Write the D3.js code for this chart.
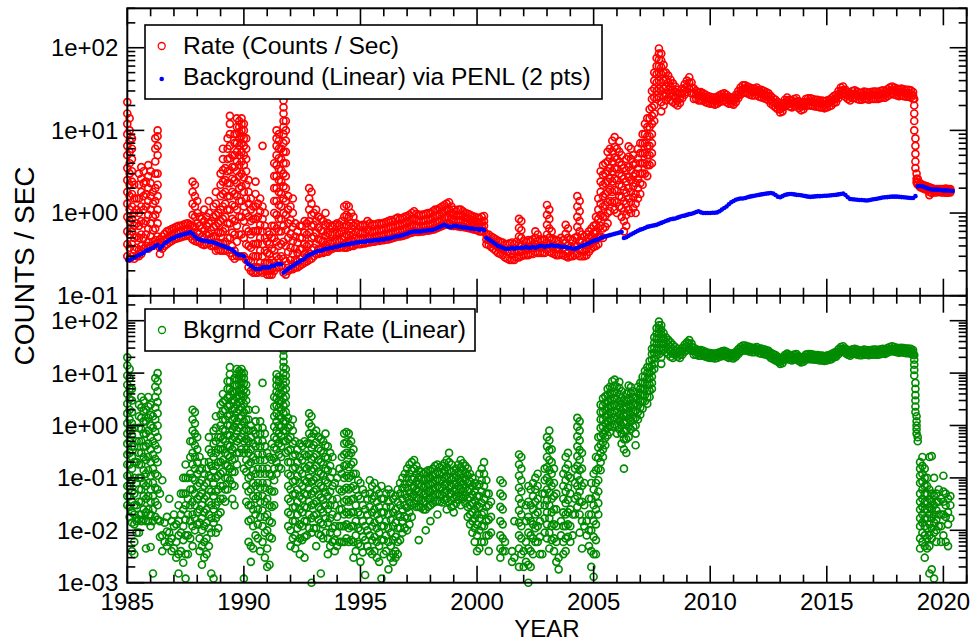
<!DOCTYPE html>
<html>
<head>
<meta charset="utf-8">
<script src="https://cdn.jsdelivr.net/npm/d3@7"></script>
<style>
  body { margin: 0; background: #fff; }
  svg { display: block; }
  text { font-family: "Liberation Sans", Arial, Helvetica, sans-serif; fill: #000; }
</style>
</head>
<body>
<svg id="chart" width="975" height="641"></svg>
<script>
// ---- Tick labels -----------------------------------------------------------
const yearLabels = [1985, 1990, 1995, 2000, 2005, 2010, 2015, 2020];
const topDecades = [100, 10, 1, 0.1];
const bottomDecades = [100, 10, 1, 0.1, 0.01, 0.001];

// ---- Background (linear fit via PENL), one row per year, tenths of a year ---
const backgroundRows = [
  [1985, .27,.27,.28,.29,.30,.31,.32,.33,.35,.36],
  [1986, .37,.38,.40,.41,.37,.40,.43,.45,.47,.49],
  [1987, .50,.52,.53,.54,.55,.56,.57,.59,.56,.52],
  [1988, .49,.48,.47,.46,.46,.45,.45,.44,.43,.42],
  [1989, .41,.40,.39,.38,.37,.36,.34,.32,.31,.31],
  [1990, .30,.26,.24,.23,.22,.21,.21,.21,.22,.22],
  [1991, .22,.22,.23,.23,.24,.24,.24,.19,.20,.21],
  [1992, .22,.23,.24,.25,.26,.27,.28,.30,.31,.32],
  [1993, .33,.34,.35,.35,.36,.37,.37,.38,.38,.39],
  [1994, .39,.40,.41,.41,.42,.42,.43,.43,.44,.44],
  [1995, .45,.45,.45,.46,.46,.46,.47,.47,.47,.48],
  [1996, .48,.49,.49,.50,.51,.52,.52,.53,.54,.55],
  [1997, .56,.58,.59,.60,.60,.60,.60,.61,.61,.62],
  [1998, .62,.63,.64,.66,.68,.70,.72,.70,.68,.68],
  [1999, .70,.70,.68,.68,.67,.67,.66,.65,.65,.64],
  [2000, .64,.63,.64,.62,.50,.48,.46,.44,.42,.40],
  [2001, .39,.38,.37,.37,.37,.38,.37,.38,.38,.38],
  [2002, .38,.39,.38,.38,.39,.38,.39,.40,.40,.39],
  [2003, .40,.40,.41,.40,.40,.40,.39,.39,.39,.38],
  [2004, .38,.37,.37,.38,.39,.40,.41,.42,.43,.45],
  [2005, .46,.47,.48,.50,.51,.52,.53,.54,.55,.56],
  [2006, .57,.58,.59,.50,.51,.53,.55,.57,.59,.61],
  [2007, .63,.64,.66,.68,.69,.70,.71,.72,.74,.76],
  [2008, .78,.80,.82,.84,.85,.86,.88,.90,.92,.93],
  [2009, .95,.97,.98,1.00,1.03,1.05,1.02,1.00,1.00,1.00],
  [2010, 1.00,1.01,1.01,1.02,1.05,1.10,1.15,1.20,1.28,1.35],
  [2011, 1.40,1.45,1.48,1.50,1.50,1.52,1.55,1.58,1.60,1.62],
  [2012, 1.64,1.66,1.68,1.70,1.72,1.73,1.75,1.72,1.65,1.58],
  [2013, 1.55,1.60,1.65,1.68,1.70,1.70,1.68,1.66,1.65,1.64],
  [2014, 1.62,1.60,1.58,1.57,1.58,1.59,1.60,1.60,1.61,1.62],
  [2015, 1.62,1.63,1.64,1.65,1.66,1.68,1.70,1.72,1.65,1.55],
  [2016, 1.48,1.47,1.46,1.45,1.44,1.44,1.43,1.42,1.43,1.45],
  [2017, 1.47,1.48,1.50,1.52,1.54,1.55,1.56,1.57,1.58,1.58],
  [2018, 1.58,1.57,1.56,1.55,1.54,1.53,1.52,1.52,1.60,2.10],
  [2019, 2.12,2.10,2.05,2.00,1.95,1.93,1.92,1.92,1.91,1.90],
  [2020, 1.88,1.88,1.87,1.86,1.85]
];

// ---- Rate (counts/sec): [time, readings...] ---------------------------------
const rateRows = [
  [1985.0, 22,16,12,9,6.5,5,3.5,2.5,1.8,1.3,.9,.6,.42,.3],
  [1985.1, 14,10,7.5,5.5,4,3,2.2,1.6,1.1,.8,.55,.38,.28],
  [1985.2, 8,6,4.5,3.2,2.4,1.7,1.2,.85,.6,.42,.3],
  [1985.3, 2.2,1.5,1.0,.7,.5,.36,.28],
  [1985.4, 1.5,1.1,.75,.52,.38,.3],
  [1985.5, 3.0,2.2,1.5,1.0,.7,.5,.36,.3],
  [1985.6, 3.6,2.6,1.8,1.2,.8,.55,.4,.32],
  [1985.7, 3.2,2.3,1.6,1.1,.75,.5,.37],
  [1985.8, 2.4,1.7,1.2,.8,.55,.4],
  [1985.9, 3.8,2.8,2.0,1.4,.95,.65,.45,.37],
  [1986.0, 3.2,2.3,1.6,1.1,.75,.52,.4],
  [1986.1, 1.8,1.3,.9,.62,.45,.4],
  [1986.2, 8,6,4.2,3,2,1.4,.95,.65,.47,.42],
  [1986.3, 10,8.5,6.5,5,3,2.2,1.6,1.1,.75,.52,.43],
  [1986.4, .48,.38,.32],
  [1986.5, .52,.44,.37],
  [1986.6, .56,.47,.40],
  [1986.7, .6,.5,.42],
  [1986.8, .62,.52,.44],
  [1986.9, .64,.54,.46],
  [1987.0, .66,.56,.48],
  [1987.1, .68,.58,.49],
  [1987.2, .7,.6,.5],
  [1987.3, .7,.6,.51],
  [1987.4, .72,.62,.52],
  [1987.5, .74,.64,.53],
  [1987.6, .75,.65,.55],
  [1987.7, .72,.6,.52],
  [1987.8, 2.4,1.8,1.3,.95,.7,.55,.48],
  [1987.9, 2.2,1.6,1.2,.9,.68,.52,.46],
  [1988.0, 1.4,1.0,.75,.58,.45],
  [1988.1, .9,.7,.56,.44],
  [1988.2, .85,.65,.52,.42],
  [1988.3, 1.1,.8,.62,.5,.41],
  [1988.4, .9,.7,.55,.42],
  [1988.5, 1.4,1.0,.75,.56,.43],
  [1988.6, .8,.62,.5,.4],
  [1988.7, 1.2,.9,.68,.52,.4],
  [1988.8, 1.8,1.3,.95,.7,.52,.4,.35],
  [1988.9, 1.0,.75,.58,.44,.36],
  [1989.0, 3,2.2,1.6,1.1,.8,.58,.43,.35],
  [1989.1, 6,4.5,3.3,2.4,1.7,1.2,.85,.6,.43,.35],
  [1989.2, 3.5,2.5,1.8,1.3,.9,.65,.45,.35],
  [1989.3, 8,6,4.5,3.2,2.3,1.6,1.1,.75,.5,.36],
  [1989.4, 15,12,9,6.5,4.6,3.3,2.3,1.6,1.1,.75,.5,.33],
  [1989.5, 5,3.6,2.6,1.8,1.25,.85,.58,.4,.3],
  [1989.6, 9,7,5,3.6,2.5,1.7,1.2,.8,.55,.35,.28],
  [1989.7, 14,11,9,7,5.5,4.2,3.2,2.3,1.6,1.1,.7,.45,.3],
  [1989.8, 13,11,9.5,8,6.5,5,3.8,2.8,2,1.4,.9,.55,.3],
  [1989.9, 14,12,10,8.5,7,5.5,4.2,3,2.1,1.4,.9,.55,.3],
  [1990.0, 12,10,8,6.5,5,3.8,2.7,1.8,1.2,.8,.5,.3],
  [1990.1, 8,6,4.5,3.2,2.2,1.5,1,.65,.42,.27],
  [1990.2, 2.5,1.8,1.3,.9,.6,.4,.27,.22],
  [1990.3, 1.5,1.1,.8,.55,.38,.26,.2],
  [1990.4, 1.2,.85,.6,.42,.3,.22,.19],
  [1990.5, 2.4,1.7,1.2,.85,.6,.42,.3,.22,.19],
  [1990.6, 1.3,.9,.62,.43,.3,.22,.19],
  [1990.7, 1.5,1.05,.72,.5,.35,.25,.2],
  [1990.8, 6.5,1.2,.85,.6,.42,.3,.22,.19],
  [1990.9, 1.0,.7,.5,.35,.25,.2],
  [1991.0, .6,.45,.33,.25,.2,.18],
  [1991.1, .55,.42,.32,.25,.2,.18],
  [1991.2, .7,.5,.37,.27,.21,.18],
  [1991.3, 4,2.8,2,1.4,1,.7,.5,.35,.25,.2],
  [1991.4, 10,8,6.5,5,3.8,2.8,2,1.4,.95,.65,.45,.3,.22],
  [1991.5, 9,7.5,6,4.6,3.4,2.5,1.8,1.25,.85,.6,.4,.28,.22],
  [1991.6, 6,4.5,3.3,2.4,1.7,1.2,.85,.6,.42,.3,.23],
  [1991.7, 23,19,16,13,11,9,7,5.5,4,3,2.1,1.5,1,.7,.45,.28,.19],
  [1991.8, 13,10,7.5,5.5,4,2.8,2,1.4,.95,.62,.4,.26,.18],
  [1991.9, 1.6,1.1,.75,.5,.34,.24,.2],
  [1992.0, 1.2,.82,.56,.38,.27,.21],
  [1992.1, 1.5,1,.68,.46,.32,.24,.21],
  [1992.2, .75,.52,.37,.27,.22],
  [1992.3, .6,.44,.33,.26,.22],
  [1992.4, .7,.5,.36,.28,.23],
  [1992.5, .7,.5,.37,.29,.24],
  [1992.6, .8,.58,.42,.32,.25],
  [1992.7, .75,.55,.4,.3,.26],
  [1992.8, 2,1.5,1.1,.8,.58,.42,.32,.27],
  [1992.9, 1.8,1.3,.95,.7,.5,.36,.28],
  [1993.0, 1.0,.72,.52,.38,.3],
  [1993.1, 1.1,.8,.58,.42,.32],
  [1993.2, .9,.66,.48,.37,.32],
  [1993.3, .85,.62,.47,.37,.33],
  [1993.4, .8,.6,.46,.37,.33],
  [1993.5, 1.0,.72,.53,.41,.34],
  [1993.6, .75,.57,.45,.37,.34],
  [1993.7, .7,.55,.43,.36],
  [1993.8, .7,.55,.44,.37],
  [1993.9, .72,.56,.45,.38],
  [1994.0, .75,.58,.46,.38],
  [1994.1, .72,.56,.46,.38],
  [1994.2, .8,.6,.48,.39],
  [1994.3, 1.2,.9,.68,.52,.42,.38],
  [1994.4, 1.25,.95,.72,.55,.43,.38],
  [1994.5, 1.2,.9,.7,.54,.44,.39],
  [1994.6, 1.0,.76,.58,.46,.4],
  [1994.7, .9,.7,.55,.45,.4],
  [1994.8, .75,.6,.49,.42],
  [1994.9, .72,.58,.48,.42],
  [1995.0, .7,.57,.48,.42],
  [1995.1, .72,.58,.48,.43],
  [1995.2, .72,.58,.49,.43],
  [1995.3, .8,.63,.51,.44],
  [1995.4, .75,.6,.5,.44],
  [1995.5, .73,.59,.5,.45],
  [1995.6, .72,.6,.51,.45],
  [1995.7, .74,.61,.52,.46],
  [1995.8, .75,.62,.52,.46],
  [1995.9, .74,.62,.53,.47],
  [1996.0, .76,.63,.54,.47],
  [1996.1, .78,.65,.55,.48],
  [1996.2, .8,.66,.56,.48],
  [1996.3, .82,.68,.57,.49],
  [1996.4, .8,.67,.57,.5],
  [1996.5, .85,.7,.59,.51],
  [1996.6, .88,.72,.6,.52],
  [1996.7, .85,.71,.6,.52],
  [1996.8, .87,.73,.62,.53],
  [1996.9, .9,.75,.63,.54],
  [1997.0, .92,.77,.65,.55],
  [1997.1, .95,.8,.67,.57],
  [1997.2, 1.0,.84,.7,.58],
  [1997.3, 1.05,.86,.7,.59],
  [1997.4, .98,.82,.69,.59],
  [1997.5, .95,.8,.68,.59],
  [1997.6, .95,.8,.68,.6],
  [1997.7, .96,.81,.69,.6],
  [1997.8, .98,.82,.7,.61],
  [1997.9, 1.0,.84,.71,.61],
  [1998.0, 1.0,.85,.72,.62],
  [1998.1, 1.05,.88,.74,.63],
  [1998.2, 1.1,.92,.77,.64],
  [1998.3, 1.1,.93,.79,.66],
  [1998.4, 1.15,.96,.8,.68],
  [1998.5, 1.2,1.0,.83,.7],
  [1998.6, 1.25,1.05,.87,.72],
  [1998.7, 1.3,1.1,.9,.74],
  [1998.8, 1.35,1.1,.88,.72],
  [1998.9, 1.2,1.0,.85,.7],
  [1999.0, 1.1,.95,.82,.7],
  [1999.1, 1.05,.92,.8,.7],
  [1999.2, 1.1,.95,.82,.69],
  [1999.3, 1.1,.95,.82,.68],
  [1999.4, 1.05,.92,.79,.68],
  [1999.5, 1.0,.88,.77,.67],
  [1999.6, .98,.86,.76,.66],
  [1999.7, .95,.84,.74,.65],
  [1999.8, .92,.82,.72,.64],
  [1999.9, .9,.8,.71,.63],
  [2000.0, .88,.78,.7,.62],
  [2000.1, .86,.76,.68,.6],
  [2000.2, .9,.78,.68,.6],
  [2000.3, .92,.8,.7,.6],
  [2000.4, .55,.48,.42],
  [2000.5, .55,.47,.41],
  [2000.6, .52,.45,.39],
  [2000.7, .5,.43,.37],
  [2000.8, .48,.41,.35],
  [2000.9, .46,.39,.33],
  [2001.0, .45,.38,.32],
  [2001.1, .44,.37,.31],
  [2001.2, .42,.35,.29],
  [2001.3, .42,.34,.28],
  [2001.4, .43,.34,.27],
  [2001.5, .44,.35,.27],
  [2001.6, .42,.34,.27],
  [2001.7, .45,.36,.29],
  [2001.8, .85,.66,.52,.42,.34,.29],
  [2001.9, .8,.62,.5,.41,.34,.3],
  [2002.0, .46,.38,.31],
  [2002.1, .45,.37,.31],
  [2002.2, .47,.38,.31],
  [2002.3, .46,.38,.32],
  [2002.4, .48,.39,.32],
  [2002.5, .6,.5,.42,.34],
  [2002.6, .55,.46,.39,.33],
  [2002.7, .48,.4,.33],
  [2002.8, .47,.39,.33],
  [2002.9, .48,.4,.33],
  [2003.0, 1.25,.95,.72,.55,.44,.36],
  [2003.1, 1.1,.85,.65,.5,.41,.34],
  [2003.2, .6,.48,.4,.33],
  [2003.3, .48,.39,.32],
  [2003.4, .47,.38,.31],
  [2003.5, .46,.37,.31],
  [2003.6, .5,.4,.32],
  [2003.7, .47,.38,.31],
  [2003.8, .72,.56,.44,.35,.3],
  [2003.9, .65,.5,.4,.33,.29],
  [2004.0, .48,.38,.3],
  [2004.1, .47,.37,.3],
  [2004.2, .5,.39,.31],
  [2004.3, 1.6,1.2,.9,.68,.52,.4,.32],
  [2004.4, 1.4,1.05,.8,.6,.46,.36,.3],
  [2004.5, .55,.44,.35,.3],
  [2004.6, .52,.42,.34,.3],
  [2004.7, .55,.45,.37,.31],
  [2004.8, .6,.5,.41,.34],
  [2004.9, .65,.53,.44,.37],
  [2005.0, .7,.58,.47,.39],
  [2005.1, .9,.72,.58,.47,.4],
  [2005.2, 1.5,1.1,.85,.66,.52,.42],
  [2005.3, 3.2,2.4,1.8,1.3,.95,.7,.52],
  [2005.4, 3.8,2.9,2.2,1.6,1.2,.9,.65,.5],
  [2005.5, 4,3,2.3,1.7,1.25,.92,.68],
  [2005.6, 5.5,4.2,3.2,2.4,1.8,1.35,1,.75],
  [2005.7, 6,4.6,3.5,2.6,1.9,1.4,1.05],
  [2005.8, 7.5,5.6,4.2,3.2,2.4,1.8,1.35],
  [2005.9, 8.3,6.3,4.7,3.5,2.6,1.9,1.4,1.1],
  [2006.0, 6,4.5,3.4,2.5,1.85,1.35,1.0],
  [2006.1, 7.4,5.5,4.1,3,2.2,1.6,1.2],
  [2006.2, 5,3.8,2.8,2.1,1.55,1.15,.9],
  [2006.3, 3.5,2.6,1.9,1.4,1.05,.8,.6],
  [2006.4, 4.5,3.3,2.4,1.75,1.3,.95,.7],
  [2006.5, 6.4,4.8,3.6,2.7,2,1.5,1.1],
  [2006.6, 6,4.5,3.3,2.5,1.8,1.35,1],
  [2006.7, 5,3.8,2.8,2.1,1.55,1.15],
  [2006.8, 4,3,2.3,1.7,1.3,1.0],
  [2006.9, 6,4.6,3.5,2.6,2,1.5],
  [2007.0, 7,5.3,4,3,2.3,1.7],
  [2007.1, 9,7,5.3,4,3,2.2],
  [2007.2, 12,9,7,5.3,4,3],
  [2007.3, 14,11,8.5,6.5,5,3.8,2.8],
  [2007.4, 18,14,11,8.5,6.5,5,3.8],
  [2007.5, 30,24,19,15,12,9,7,5.3,4],
  [2007.6, 50,40,32,25,20,16,13],
  [2007.7, 75,60,48,38,30,24],
  [2007.8, 98,85,72,60,50,40,32,25],
  [2007.9, 85,70,58,48,38,30,22,17],
  [2008.0, 62,50,40,32,26,20],
  [2008.1, 50,41,34,28,23],
  [2008.2, 46,38,31,25],
  [2008.3, 41,34,28,23],
  [2008.4, 37,31,26,22],
  [2008.5, 34,29,25,21],
  [2008.6, 31,27,23,20],
  [2008.7, 28,24.5,21.5],
  [2008.8, 32,28,24.5],
  [2008.9, 36,31,27],
  [2009.0, 40,34,29],
  [2009.1, 44,38,32],
  [2009.2, 38,33,28],
  [2009.3, 32,28,24],
  [2009.4, 30,27,24],
  [2009.5, 29,26,23],
  [2009.6, 29,26,23],
  [2009.7, 28,25.5,23],
  [2009.8, 27,24.5,22],
  [2009.9, 26,24,21.5],
  [2010.0, 25.5,23.5,21],
  [2010.1, 25,23,21],
  [2010.2, 25,22.8,20.5],
  [2010.3, 25.5,23.5,21],
  [2010.4, 26.5,24.5,22],
  [2010.5, 27.5,25,22.5],
  [2010.6, 28,25.5,23],
  [2010.7, 27,24.5,22],
  [2010.8, 25.5,23.5,21],
  [2010.9, 25,23,21],
  [2011.0, 25,22.8,20.5],
  [2011.1, 27,24.5,22],
  [2011.2, 30,27,24.5],
  [2011.3, 33,30,27],
  [2011.4, 35,31.5,28.5],
  [2011.5, 35,32,28.5],
  [2011.6, 34,31,28],
  [2011.7, 33,30,27],
  [2011.8, 32,29.5,26.5],
  [2011.9, 32,29.5,26.5],
  [2012.0, 33,30,27],
  [2012.1, 31,28.5,25.5],
  [2012.2, 31,28,25],
  [2012.3, 30,27,24.5],
  [2012.4, 29,26.7,24],
  [2012.5, 28,25.5,23],
  [2012.6, 26,23.5,21],
  [2012.7, 24.5,22,20],
  [2012.8, 23.5,21.2,19],
  [2012.9, 22,20,18],
  [2013.0, 20,18,16.5],
  [2013.1, 21,19,17],
  [2013.2, 23.5,21.5,19.5],
  [2013.3, 25,22.8,20.5],
  [2013.4, 23.5,21.5,19.5],
  [2013.5, 23,21,19],
  [2013.6, 24,21.8,19.8],
  [2013.7, 24.5,22.3,20],
  [2013.8, 22.5,20.5,18.5],
  [2013.9, 21,19.3,17.5],
  [2014.0, 22,20,18],
  [2014.1, 24,21.8,19.8],
  [2014.2, 24.5,22.3,20],
  [2014.3, 24.5,22.2,20],
  [2014.4, 24,21.8,19.8],
  [2014.5, 23.5,21.5,19.5],
  [2014.6, 23.5,21.3,19.3],
  [2014.7, 23,21,19],
  [2014.8, 23,21,19],
  [2014.9, 22.5,20.5,18.5],
  [2015.0, 23,21,19],
  [2015.1, 23.5,21.5,19.5],
  [2015.2, 24.5,22.3,20],
  [2015.3, 26,23.5,21.5],
  [2015.4, 27,24.4,22],
  [2015.5, 30,27,24.5],
  [2015.6, 33,30,27],
  [2015.7, 34,30.7,28],
  [2015.8, 31,28,25.5],
  [2015.9, 29,26.5,24],
  [2016.0, 28,25.5,23],
  [2016.1, 30,27,24.5],
  [2016.2, 30.5,27.5,25],
  [2016.3, 29.5,26.7,24],
  [2016.4, 28.5,26,23.5],
  [2016.5, 28.5,26,23.5],
  [2016.6, 29.5,26.7,24],
  [2016.7, 29,26.5,24],
  [2016.8, 28.5,26,23.5],
  [2016.9, 29,26.5,24],
  [2017.0, 29.5,26.7,24],
  [2017.1, 29.5,26.7,24],
  [2017.2, 29,26.5,24],
  [2017.3, 30,27,24.5],
  [2017.4, 30.5,27.5,25],
  [2017.5, 30,27.3,24.8],
  [2017.6, 31.5,28.5,26],
  [2017.7, 33,30,27],
  [2017.8, 34,30.7,28],
  [2017.9, 33,30,27],
  [2018.0, 32,29,26.5],
  [2018.1, 31.5,28.5,26],
  [2018.2, 32,29,26.5],
  [2018.3, 31.5,28.7,26],
  [2018.4, 31,28,25.5],
  [2018.5, 31,28,25.5],
  [2018.6, 30.5,27.5,25],
  [2018.7, 29,26.5,24],
  [2018.75, 24,20,16,13,10],
  [2018.8, 8,6.5,5.2,4.2,3.5],
  [2018.85, 3.0,2.6,2.35],
  [2018.9, 2.6,2.35,2.2],
  [2019.0, 2.3,2.15,2.05],
  [2019.1, 2.2,2.1,2.0],
  [2019.2, 2.15,2.05,1.95],
  [2019.3, 2.1,2.0,1.9],
  [2019.4, 2.05,1.95,1.8,1.65],
  [2019.5, 2.0,1.9,1.75],
  [2019.6, 1.95,1.87,1.78],
  [2019.7, 1.95,1.87,1.78],
  [2019.8, 1.95,1.88,1.8],
  [2019.9, 1.95,1.87,1.78],
  [2020.0, 1.95,1.87,1.78],
  [2020.1, 1.98,1.88,1.76],
  [2020.2, 1.95,1.86,1.76],
  [2020.3, 1.95,1.86,1.78]
];

// ---- Background-corrected rate: [time, readings...] -------------------------
const corrRows = [
  [1985.0, 20,14,9,6,4,2.6,1.7,1.1,.7,.45,.28,.18,.11,.07,.045,.03],
  [1985.1, 12,8,5,3.2,2,1.3,.8,.5,.3,.18,.11,.07,.045,.028,.018],
  [1985.2, 5,3,1.8,1.1,.65,.4,.25,.15,.09,.055,.035,.022,.014,.004],
  [1985.3, .9,.4,.2,.1,.05,.03,.02,.013,.006,.0035],
  [1985.4, .5,.2,.08,.03,.017,.015,.009],
  [1985.5, 2.5,1.5,.9,.5,.3,.18,.1,.06,.035,.02,.016,.009],
  [1985.6, 3.5,2.2,1.4,.85,.5,.3,.18,.1,.06,.035,.02,.015],
  [1985.7, 3,1.9,1.2,.7,.4,.25,.14,.08,.045,.025,.016],
  [1985.8, 2,1.2,.7,.4,.22,.12,.07,.04,.022,.015,.0045],
  [1985.9, 3.5,2.3,1.4,.8,.45,.25,.14,.08,.045,.025,.015],
  [1986.0, 2.5,1.6,1,.6,.35,.2,.11,.06,.035,.02,.012,.0048],
  [1986.1, 1.5,.9,.5,.28,.15,.08,.045,.025,.015,.0015],
  [1986.2, 8,5.5,3.5,2.2,1.3,.75,.42,.23,.12,.065,.035,.018],
  [1986.3, 10,7,4.5,2.8,1.7,1,.6,.35,.2,.11,.06,.03,.016],
  [1986.4, .05,.015,.0075],
  [1986.5, .09,.008,.004],
  [1986.6, .014,.006],
  [1986.7, .018,.0095,.005],
  [1986.8, .04,.009,.006],
  [1986.9, .015,.007,.004],
  [1987.0, .02,.012,.0045],
  [1987.1, .013,.006,.003],
  [1987.2, .03,.015,.008,.0035,.0015],
  [1987.3, .05,.02,.009,.004],
  [1987.4, .1,.05,.025,.012,.0065,.0024],
  [1987.5, .18,.1,.05,.03,.016,.008,.0035,.0012],
  [1987.6, .1,.04,.02,.008,.0035],
  [1987.7, .5,.25,.12,.06,.03,.015,.007],
  [1987.8, 2,1.3,.8,.5,.3,.18,.1,.06,.035,.02,.012,.005],
  [1987.9, 1.8,1.1,.7,.42,.25,.15,.09,.05,.03,.017,.01],
  [1988.0, .6,.35,.2,.12,.07,.04,.022,.013],
  [1988.1, .25,.14,.08,.045,.025,.014,.007,.004],
  [1988.2, .15,.09,.05,.03,.017,.01,.005,.0022],
  [1988.3, .2,.12,.07,.04,.022,.012,.006,.003],
  [1988.4, .15,.08,.045,.025,.014,.007,.0035],
  [1988.5, .6,.35,.2,.11,.06,.035,.02,.011,.005],
  [1988.6, .3,.17,.1,.055,.03,.017,.009,.0015],
  [1988.7, .8,.45,.25,.14,.08,.045,.025,.014,.0012],
  [1988.8, 1.5,.9,.5,.3,.17,.1,.055,.03,.017,.009],
  [1988.9, .6,.35,.2,.11,.06,.035,.02,.011],
  [1989.0, 2.5,1.6,1,.6,.35,.2,.12,.07,.04,.022],
  [1989.1, 4,2.8,1.9,1.3,.85,.55,.35,.22,.13,.07,.04],
  [1989.2, 3,2,1.3,.8,.5,.3,.18,.1,.06,.035],
  [1989.3, 7,5,3.4,2.3,1.5,1,.65,.42,.27,.17,.1,.06],
  [1989.4, 13,9.5,7,5,3.5,2.4,1.6,1,.65,.4,.25,.15,.09],
  [1989.5, 4.5,3,2,1.3,.85,.55,.35,.22,.13,.075,.04],
  [1989.6, 8,5.8,4.2,3,2.1,1.4,.95,.6,.38,.23,.13,.07,.03],
  [1989.7, 12,9.5,7.5,5.8,4.5,3.4,2.5,1.8,1.2,.8,.5,.3,.18],
  [1989.8, 11,9,7.5,6,4.8,3.7,2.8,2,1.4,.9,.55,.3],
  [1989.9, 12,10,8.2,6.6,5.2,4,3,2.2,1.5,1,.6,.35],
  [1990.0, 10,8,6.3,4.8,3.6,2.6,1.8,1.2,.8,.5,.3,.15,.0012],
  [1990.1, 6,4.3,3,2,1.3,.85,.55,.35,.22,.13,.07,.035],
  [1990.2, 2,1.3,.8,.5,.3,.18,.1,.055,.03,.015,.006],
  [1990.3, 1,.6,.35,.2,.11,.06,.03,.016,.005,.0025],
  [1990.4, .8,.45,.25,.14,.08,.045,.025,.012,.0045],
  [1990.5, 2,1.2,.7,.4,.22,.12,.07,.04,.02,.008],
  [1990.6, .9,.5,.28,.15,.08,.045,.025,.013,.007],
  [1990.7, 1.2,.7,.4,.22,.12,.065,.035,.018,.004],
  [1990.8, 6.5,.9,.5,.28,.15,.08,.045,.024,.012,.006],
  [1990.9, .7,.4,.22,.12,.065,.035,.018,.009,.003],
  [1991.0, .3,.15,.08,.04,.02,.01,.0045,.002],
  [1991.1, .25,.12,.06,.03,.015,.0075,.0022],
  [1991.2, .45,.22,.11,.055,.028,.014,.007],
  [1991.3, 3.5,2.3,1.5,.95,.6,.38,.24,.15,.09,.055,.03],
  [1991.4, 9.5,7.5,5.8,4.4,3.3,2.4,1.7,1.2,.8,.55,.35,.2,.12],
  [1991.5, 8.5,6.8,5.3,4,3,2.2,1.5,1,.7,.45,.28,.16],
  [1991.6, 5.5,4,2.9,2,1.4,.95,.62,.4,.25,.15],
  [1991.7, 27,21,16.5,13,10,7.8,6,4.5,3.3,2.4,1.7,1.2,.8,.5],
  [1991.8, 12,9,6.8,5,3.6,2.6,1.8,1.2,.8,.5,.3],
  [1991.9, 1.4,.9,.55,.33,.2,.12,.07,.04,.022,.012],
  [1992.0, 1,.6,.35,.2,.11,.06,.035,.02,.01,.005],
  [1992.1, 1.3,.8,.45,.26,.15,.085,.048,.027,.015,.007],
  [1992.2, .5,.28,.16,.09,.05,.028,.015,.008,.0045],
  [1992.3, .35,.2,.11,.06,.035,.02,.011,.006],
  [1992.4, .45,.25,.14,.08,.045,.025,.013,.007,.0035],
  [1992.5, .4,.22,.12,.07,.04,.022,.012,.0065],
  [1992.6, .5,.28,.16,.09,.05,.028,.015,.0075,.003],
  [1992.7, .45,.26,.15,.085,.048,.027,.015,.008],
  [1992.8, 1.7,1.1,.7,.45,.28,.17,.1,.06,.035,.02,.011],
  [1992.9, 1.5,.95,.6,.38,.23,.14,.085,.05,.03,.017,.009,.001],
  [1993.0, .7,.42,.25,.15,.09,.055,.032,.019,.011],
  [1993.1, .8,.48,.28,.17,.1,.06,.035,.02,.011,.005],
  [1993.2, .6,.36,.22,.13,.08,.048,.028,.016,.0085],
  [1993.3, .55,.33,.2,.12,.07,.042,.025,.014,.008,.0015],
  [1993.4, .5,.3,.18,.11,.065,.038,.022,.013,.007],
  [1993.5, .7,.42,.25,.15,.09,.053,.03,.017,.009],
  [1993.6, .4,.24,.14,.08,.045,.025,.014,.007,.0035],
  [1993.7, .3,.17,.1,.055,.03,.017,.009,.005],
  [1993.8, .25,.13,.07,.038,.02,.011,.006],
  [1993.9, .08,.03,.012,.0065,.004],
  [1994.0, .1,.04,.018,.009,.005],
  [1994.1, .15,.06,.025,.012,.006],
  [1994.2, .25,.12,.055,.025,.012,.006],
  [1994.3, .7,.45,.28,.17,.1,.06,.035,.02,.012,.006],
  [1994.4, .75,.48,.3,.18,.11,.065,.038,.022,.013,.007],
  [1994.5, .7,.44,.27,.16,.1,.06,.035,.02,.011,.006],
  [1994.6, .5,.3,.18,.11,.065,.038,.022,.012,.0065],
  [1994.7, .35,.2,.12,.07,.04,.022,.012,.006,.003],
  [1994.8, .12,.06,.03,.015,.008,.004],
  [1994.9, .09,.045,.022,.011,.0055],
  [1995.0, .08,.04,.02,.01,.005,.0025],
  [1995.1, .06,.03,.015,.0075,.0038],
  [1995.2, .05,.025,.012,.0065,.0014],
  [1995.3, .04,.02,.01,.005],
  [1995.4, .09,.05,.028,.015,.008,.004],
  [1995.5, .07,.04,.022,.012,.0065,.0035],
  [1995.6, .08,.045,.025,.014,.0075,.004],
  [1995.7, .06,.035,.02,.011,.006,.003],
  [1995.8, .05,.028,.016,.009,.005,.0025],
  [1995.9, .07,.04,.022,.012,.0065,.0012],
  [1996.0, .04,.022,.012,.0065,.0035],
  [1996.1, .05,.028,.015,.008,.004],
  [1996.2, .06,.035,.02,.011,.006,.0018],
  [1996.3, .05,.028,.016,.009,.005,.003],
  [1996.4, .04,.022,.012,.0065,.0035,.0025],
  [1996.5, .045,.025,.014,.0075,.004,.003],
  [1996.6, .06,.035,.02,.011,.006,.0035],
  [1996.7, .08,.05,.03,.018,.011,.0065],
  [1996.8, .1,.065,.04,.025,.015,.009],
  [1996.9, .12,.075,.048,.03,.018,.011],
  [1997.0, .15,.1,.065,.042,.027,.017,.01],
  [1997.1, .18,.12,.08,.052,.034,.022,.013],
  [1997.2, .2,.14,.095,.065,.044,.03,.018],
  [1997.3, .22,.15,.1,.07,.048,.032],
  [1997.4, .17,.12,.085,.06,.042,.028],
  [1997.5, .14,.1,.075,.055,.04,.028,.0065],
  [1997.6, .13,.095,.07,.052,.038,.027],
  [1997.7, .12,.09,.066,.048,.035,.025],
  [1997.8, .13,.095,.07,.05,.036,.025,.01],
  [1997.9, .14,.1,.075,.055,.04,.028],
  [1998.0, .14,.1,.075,.055,.04,.03,.015],
  [1998.1, .15,.11,.08,.06,.045,.033],
  [1998.2, .17,.12,.09,.065,.048,.035],
  [1998.3, .18,.13,.095,.07,.05,.036,.02],
  [1998.4, .16,.12,.09,.066,.048,.035],
  [1998.5, .17,.125,.09,.065,.047,.034],
  [1998.6, .19,.14,.1,.073,.053,.038],
  [1998.7, .22,.16,.11,.08,.057,.04,.025],
  [1998.8, .3,.2,.14,.1,.07,.05,.035],
  [1998.9, .18,.13,.095,.07,.05,.037,.028],
  [1999.0, .14,.1,.075,.055,.04,.03,.022],
  [1999.1, .15,.11,.08,.06,.045,.033],
  [1999.2, .18,.13,.095,.07,.052,.038],
  [1999.3, .22,.16,.12,.085,.062,.045,.03],
  [1999.4, .19,.14,.1,.075,.055,.04],
  [1999.5, .17,.125,.09,.065,.047,.033],
  [1999.6, .15,.11,.08,.057,.04,.028,.018],
  [1999.7, .12,.085,.06,.042,.03,.02,.013],
  [1999.8, .1,.07,.048,.033,.022,.015,.009],
  [1999.9, .08,.055,.037,.025,.017,.011,.006],
  [2000.0, .07,.045,.03,.02,.013,.008,.004],
  [2000.1, .12,.075,.045,.028,.017,.01,.0045],
  [2000.2, .15,.09,.055,.033,.02,.012,.006],
  [2000.3, .2,.12,.07,.04,.022,.012,.006],
  [2000.4, .09,.05,.028,.015,.008],
  [2000.5, .05,.03,.016,.008,.004],
  [2000.6, .035,.018,.009],
  [2001.0, .09,.05,.028,.015,.008,.0045,.003],
  [2001.1, .08,.045,.025,.013,.007,.004],
  [2001.2, .006,.004],
  [2001.5, .004,.0025],
  [2001.6, .015,.003],
  [2001.8, .28,.18,.11,.065,.04,.024,.014,.008,.0045,.002],
  [2001.9, .25,.15,.09,.055,.033,.02,.012,.007,.0035],
  [2002.0, .004,.002],
  [2002.1, .03,.015,.006,.0025],
  [2002.2, .07,.035,.018,.009,.0045,.0022,.001],
  [2002.3, .06,.03,.015,.008,.004,.002],
  [2002.4, .08,.045,.025,.013,.007,.0035],
  [2002.5, .1,.06,.035,.02,.011,.006],
  [2002.6, .12,.07,.04,.022,.012,.006],
  [2002.7, .03,.015,.0075,.0035],
  [2002.8, .05,.0035],
  [2002.9, .15,.09,.05,.03,.017,.009],
  [2003.0, .6,.4,.25,.16,.1,.06,.037,.022,.013,.007],
  [2003.1, .8,.52,.34,.22,.14,.085,.052,.03,.017,.009,.0045],
  [2003.2, .35,.2,.12,.07,.04,.022,.012,.0065],
  [2003.3, .15,.08,.045,.025,.013,.007,.004],
  [2003.4, .05,.025,.012,.006,.0025],
  [2003.5, .003,.0018],
  [2003.6, .015,.008],
  [2003.7, .12,.07,.04,.022,.012,.006,.0035],
  [2003.8, .25,.15,.09,.055,.033,.02,.012,.007,.004],
  [2003.9, .3,.18,.11,.065,.038,.022,.013,.0075],
  [2004.0, .1,.05,.025,.012,.006],
  [2004.1, .02,.008],
  [2004.2, .15,.08,.04,.02],
  [2004.3, 1.4,.95,.62,.4,.26,.17,.11,.07,.045,.028],
  [2004.4, 1.2,.8,.52,.34,.22,.14,.09,.055,.035,.02,.009],
  [2004.5, .3,.15,.07,.035,.015,.0045],
  [2004.6, .08,.03,.012],
  [2004.7, .015,.008],
  [2004.8, .04,.02,.01,.005],
  [2004.9, .08,.04,.02,.01,.004,.002],
  [2005.0, .12,.06,.03,.015,.0075,.0035,.0013],
  [2005.1, .25,.14,.08,.045,.025,.013,.0065,.0035],
  [2005.2, .6,.38,.24,.15,.09,.055,.033,.02],
  [2005.3, 2.5,1.8,1.3,.9,.62,.43,.3,.2,.14],
  [2005.4, 3.3,2.4,1.8,1.3,.95,.68,.48,.35,.25],
  [2005.5, 3.6,2.7,2,1.5,1.1,.8,.58,.42],
  [2005.6, 5,3.8,2.9,2.2,1.6,1.2,.9,.65],
  [2005.7, 5.5,4.2,3.2,2.4,1.8,1.35,1,.75],
  [2005.8, 7,5.3,4,3,2.3,1.7,1.25,.95],
  [2005.9, 7.5,5.8,4.4,3.3,2.5,1.9,1.4,1.05],
  [2006.0, 5.5,4.2,3.2,2.4,1.8,1.35,1,.7],
  [2006.1, 6.8,5.2,3.9,2.9,2.2,1.6,1.2,.85],
  [2006.2, 4.5,3.4,2.6,1.9,1.4,1,.7,.45],
  [2006.3, 3,2.2,1.6,1.15,.8,.55,.35,.15],
  [2006.4, 4,3,2.2,1.6,1.15,.8,.55,.3],
  [2006.5, 5.8,4.4,3.3,2.5,1.85,1.35,.95,.6],
  [2006.6, 5.4,4.1,3,2.2,1.6,1.2,.85],
  [2006.7, 4.5,3.4,2.5,1.85,1.35,.95],
  [2006.8, 3.5,2.6,1.9,1.4,1,.7,.42],
  [2006.9, 5.5,4.2,3.2,2.4,1.8,1.3],
  [2007.0, 6.5,5,3.8,2.9,2.2,1.6],
  [2007.1, 8.5,6.5,5,3.8,2.9,2.1],
  [2007.2, 11,8.5,6.5,5,3.8,2.9],
  [2007.3, 13,10,7.8,6,4.6,3.5,2.6],
  [2007.4, 17,13,10,7.8,6,4.6,3.5],
  [2007.5, 29,23,18,14,11,8.5,6.5,5],
  [2007.6, 48,38,30,24,19,15,12],
  [2007.7, 72,57,45,36,28,22],
  [2007.8, 96,82,69,57,47,38,30,23],
  [2007.9, 82,67,55,45,36,28,20,15],
  [2008.0, 58,46,36,28],
  [2008.1, 48,39,31,25],
  [2008.2, 43,35.5,28.5,23],
  [2008.3, 38.5,31.5,25.5,20.5],
  [2008.4, 34.5,28.5,23.5,19.5],
  [2008.5, 31.5,26.5,22.5],
  [2008.6, 28.5,24.5,20.5],
  [2008.7, 26.5,22.5,19.5],
  [2008.8, 30.5,26.5,22.5],
  [2008.9, 34.5,29.5,25.5],
  [2009.0, 38.5,32.5,27.5],
  [2009.1, 42.5,36.5,30.5],
  [2009.2, 36.5,31.5,26.5],
  [2009.3, 30.5,26.5,22.5],
  [2009.4, 28.5,25.5,22.5],
  [2009.5, 27.5,24.5,21.5],
  [2009.6, 27.5,24.5,21.5],
  [2009.7, 26.5,24,21.5],
  [2009.8, 25.5,23,20.5],
  [2009.9, 24.5,22.5,20],
  [2010.0, 24,22,19.5],
  [2010.1, 23.5,21.5,19.5],
  [2010.2, 23.5,21.3,19],
  [2010.3, 24,22,19.5],
  [2010.4, 25,23,20.5],
  [2010.5, 26,23.5,21],
  [2010.6, 26.5,24,21.5],
  [2010.7, 25.5,23,20.5],
  [2010.8, 24,22,19.5],
  [2010.9, 23.5,21.5,19.5],
  [2011.0, 23.5,21.3,19],
  [2011.1, 25.5,23,20.5],
  [2011.2, 28.5,25.5,23],
  [2011.3, 31.5,28.5,25.5],
  [2011.4, 33.5,30,27],
  [2011.5, 33.5,30.5,27],
  [2011.6, 32.5,29.5,26.5],
  [2011.7, 31.5,28.5,25.5],
  [2011.8, 30.5,28,25],
  [2011.9, 30.5,28,25],
  [2012.0, 31.5,28.5,25.5],
  [2012.1, 29.5,27,24],
  [2012.2, 29.5,26.5,23.5],
  [2012.3, 28.5,25.5,23],
  [2012.4, 27.5,25,22.5],
  [2012.5, 26.5,24,21.5],
  [2012.6, 24.5,22,19.5],
  [2012.7, 23,20.5,18.5],
  [2012.8, 22,19.5,17.5],
  [2012.9, 20.5,18.5,16.5],
  [2013.0, 18.5,16.5,15],
  [2013.1, 19.5,17.5,15.5],
  [2013.2, 22,20,18],
  [2013.3, 23.5,21.2,19],
  [2013.4, 22,20,18],
  [2013.5, 21.5,19.5,17.5],
  [2013.6, 22.5,20.2,18.2],
  [2013.7, 23,20.7,18.5],
  [2013.8, 21,19,17],
  [2013.9, 19.5,17.7,16],
  [2014.0, 20.5,18.5,16.5],
  [2014.1, 22.5,20.2,18.2],
  [2014.2, 23,20.7,18.5],
  [2014.3, 23,20.6,18.5],
  [2014.4, 22.5,20.2,18.2],
  [2014.5, 22,20,18],
  [2014.6, 22,19.8,17.8],
  [2014.7, 21.5,19.5,17.5],
  [2014.8, 21.5,19.5,17.5],
  [2014.9, 21,19,17],
  [2015.0, 21.5,19.5,17.5],
  [2015.1, 22,20,18],
  [2015.2, 23,20.7,18.5],
  [2015.3, 24.5,22,20],
  [2015.4, 25.5,22.8,20.5],
  [2015.5, 28.5,25.5,23],
  [2015.6, 31.5,28.5,25.5],
  [2015.7, 32.5,29,26.5],
  [2015.8, 29.5,26.5,24],
  [2015.9, 27.5,25,22.5],
  [2016.0, 26.5,24,21.5],
  [2016.1, 28.5,25.5,23],
  [2016.2, 29,26,23.5],
  [2016.3, 28,25.2,22.5],
  [2016.4, 27,24.5,22],
  [2016.5, 27,24.5,22],
  [2016.6, 28,25.2,22.5],
  [2016.7, 27.5,25,22.5],
  [2016.8, 27,24.5,22],
  [2016.9, 27.5,25,22.5],
  [2017.0, 28,25.2,22.5],
  [2017.1, 28,25.2,22.5],
  [2017.2, 27.5,25,22.5],
  [2017.3, 28.5,25.5,23],
  [2017.4, 29,26,23.5],
  [2017.5, 28.5,25.8,23.3],
  [2017.6, 30,27,24.5],
  [2017.7, 31.5,28.5,25.5],
  [2017.8, 32.5,29.2,26.5],
  [2017.9, 31.5,28.5,25.5],
  [2018.0, 30.5,27.5,25],
  [2018.1, 30,27,24.5],
  [2018.2, 30.5,27.5,25],
  [2018.3, 30,27.2,24.5],
  [2018.4, 29.5,26.5,24],
  [2018.5, 29.5,26.5,24],
  [2018.6, 29,26,23.5],
  [2018.7, 27.5,25,22.5],
  [2018.75, 22,18,14.5,11.5,9],
  [2018.8, 6.5,5,3.8,3,2.3,1.8],
  [2018.85, 1.5,1.2,1.0,.85,.7],
  [2018.9, .6,.5],
  [2019.0, .2,.15,.11,.08,.05,.035,.025,.017,.012,.007,.0045],
  [2019.1, .25,.17,.12,.085,.06,.04,.028,.02,.014,.009,.006],
  [2019.2, .15,.1,.07,.05,.035,.025,.017,.012,.008,.005,.003],
  [2019.3, .1,.07,.05,.035,.025,.017,.011,.007,.0045],
  [2019.4, .25,.06,.04,.028,.02,.013,.008,.005,.0015],
  [2019.5, .26,.05,.035,.025,.017,.011,.007,.0018],
  [2019.6, .1,.045,.03,.02,.014,.009,.0012],
  [2019.7, .05,.035,.024,.016,.01,.006],
  [2019.8, .06,.035,.02,.012],
  [2019.9, .04,.02,.012,.006],
  [2020.0, .11,.055,.035,.02,.008],
  [2020.1, .05,.03,.018,.006],
  [2020.2, .04,.022,.013,.005],
  [2020.3, .045,.03,.017]
];

// ---- Layout ----------------------------------------------------------------
const frame = { left: 127.3, right: 966.7, top: 8.3, mid: 295.7, bottom: 582.7 };
const colors = { rate: "#ff0000", background: "#0000ff", corr: "#008b00" };
const ring = { r: 3.5, width: 1.65 };

const svg = d3.select("#chart");

const x = d3.scaleLinear().domain([1985, 2021]).range([frame.left, frame.right]);
const yTop = d3.scaleLog().domain([0.1, 300]).range([frame.mid, frame.top]);
const yBot = d3.scaleLog().domain([0.001, 300]).range([frame.bottom, frame.mid]);

const toPoints = rows => rows.flatMap(([t, ...vals]) => vals.map(v => ({ t, v })));
const ratePts = toPoints(rateRows);
const corrPts = toPoints(corrRows);
const bkgPts = backgroundRows.flatMap(([yr, ...vals]) =>
  vals.map((v, k) => ({ t: yr + k / 10, v })));

// ---- Marks -----------------------------------------------------------------
const marks = svg.append("g");

marks.append("g").selectAll("circle").data(ratePts).join("circle")
  .attr("cx", d => x(d.t)).attr("cy", d => yTop(d.v)).attr("r", ring.r)
  .attr("fill", "none").attr("stroke", colors.rate).attr("stroke-width", ring.width);

marks.append("g").selectAll("circle").data(bkgPts).join("circle")
  .attr("cx", d => x(d.t)).attr("cy", d => yTop(d.v)).attr("r", 2.3)
  .attr("fill", colors.background);

marks.append("g").selectAll("circle").data(corrPts).join("circle")
  .attr("cx", d => x(d.t)).attr("cy", d => yBot(d.v)).attr("r", ring.r)
  .attr("fill", "none").attr("stroke", colors.corr).attr("stroke-width", ring.width);

// ---- Axes ------------------------------------------------------------------
const axes = svg.append("g").attr("stroke", "#000").attr("fill", "none");
const majorLen = 17, minorLen = 8;

// frames
axes.append("rect").attr("x", frame.left).attr("y", frame.top)
  .attr("width", frame.right - frame.left).attr("height", frame.bottom - frame.top)
  .attr("stroke-width", 2);
axes.append("line").attr("x1", frame.left).attr("x2", frame.right)
  .attr("y1", frame.mid).attr("y2", frame.mid).attr("stroke-width", 2);

// x ticks on all four horizontal edges
const years = d3.range(1985, 2021.001, 1);
const xEdges = [[frame.top, 1], [frame.mid, -1], [frame.mid, 1], [frame.bottom, -1]];
xEdges.forEach(([y0, dir]) => {
  axes.append("g").selectAll("line").data(years).join("line")
    .attr("x1", d => x(d)).attr("x2", d => x(d))
    .attr("y1", y0)
    .attr("y2", d => y0 + dir * (d % 5 === 0 ? majorLen : minorLen))
    .attr("stroke-width", 1.6);
});

// log ticks for each panel, left and right
function logTicks(scale) {
  const [lo, hi] = scale.domain();
  const out = [];
  for (let e = Math.floor(Math.log10(lo)); e <= Math.ceil(Math.log10(hi)); e++) {
    for (let m = 1; m <= 9; m++) {
      const v = m * Math.pow(10, e);
      if (v >= lo * 0.999 && v <= hi * 1.001) out.push({ v, major: m === 1 });
    }
  }
  return out;
}
[yTop, yBot].forEach(scale => {
  const ticks = logTicks(scale);
  [[frame.left, 1], [frame.right, -1]].forEach(([x0, dir]) => {
    axes.append("g").selectAll("line").data(ticks).join("line")
      .attr("x1", x0).attr("x2", d => x0 + dir * (d.major ? majorLen : minorLen))
      .attr("y1", d => scale(d.v)).attr("y2", d => scale(d.v))
      .attr("stroke-width", 1.6);
  });
});

// ---- Tick labels -------------------------------------------------------------
const fmtExp = v => {
  const e = Math.round(Math.log10(v));
  return "1e" + (e < 0 ? "-" : "+") + String(Math.abs(e)).padStart(2, "0");
};
const labels = svg.append("g").attr("font-size", 24);

labels.append("g").selectAll("text").data(topDecades).join("text")
  .attr("x", frame.left - 9).attr("y", d => yTop(d)).attr("dy", "0.35em")
  .attr("text-anchor", "end").text(fmtExp);
labels.append("g").selectAll("text").data(bottomDecades).join("text")
  .attr("x", frame.left - 9).attr("y", d => yBot(d)).attr("dy", "0.35em")
  .attr("text-anchor", "end").text(fmtExp);
labels.append("g").selectAll("text").data(yearLabels).join("text")
  .attr("x", d => x(d)).attr("y", 610)
  .attr("text-anchor", "middle").text(d => d);

svg.append("text").attr("x", (frame.left + frame.right) / 2).attr("y", 637)
  .attr("text-anchor", "middle").attr("font-size", 24).text("YEAR");
svg.append("text").attr("transform", "translate(34,266) rotate(-90)")
  .attr("text-anchor", "middle").attr("font-size", 28).text("COUNTS / SEC");

// ---- Legends ---------------------------------------------------------------
const legTop = svg.append("g");
legTop.append("rect").attr("x", 145).attr("y", 25).attr("width", 457).attr("height", 74)
  .attr("fill", "#fff").attr("stroke", "#000").attr("stroke-width", 1.6);
legTop.append("circle").attr("cx", 161.7).attr("cy", 46).attr("r", ring.r)
  .attr("fill", "none").attr("stroke", colors.rate).attr("stroke-width", 1.3);
legTop.append("circle").attr("cx", 161.7).attr("cy", 79).attr("r", 2.3)
  .attr("fill", colors.background);
legTop.append("text").attr("x", 183).attr("y", 54).attr("font-size", 24.6)
  .text("Rate (Counts / Sec)");
legTop.append("text").attr("x", 183).attr("y", 85).attr("font-size", 24.6)
  .text("Background (Linear) via PENL (2 pts)");

const legBot = svg.append("g");
legBot.append("rect").attr("x", 145).attr("y", 309).attr("width", 330).attr("height", 42)
  .attr("fill", "#fff").attr("stroke", "#000").attr("stroke-width", 1.6);
legBot.append("circle").attr("cx", 162).attr("cy", 330).attr("r", ring.r)
  .attr("fill", "none").attr("stroke", colors.corr).attr("stroke-width", 1.3);
legBot.append("text").attr("x", 183).attr("y", 338).attr("font-size", 24.6)
  .text("Bkgrnd Corr Rate (Linear)");
</script>
</body>
</html>
